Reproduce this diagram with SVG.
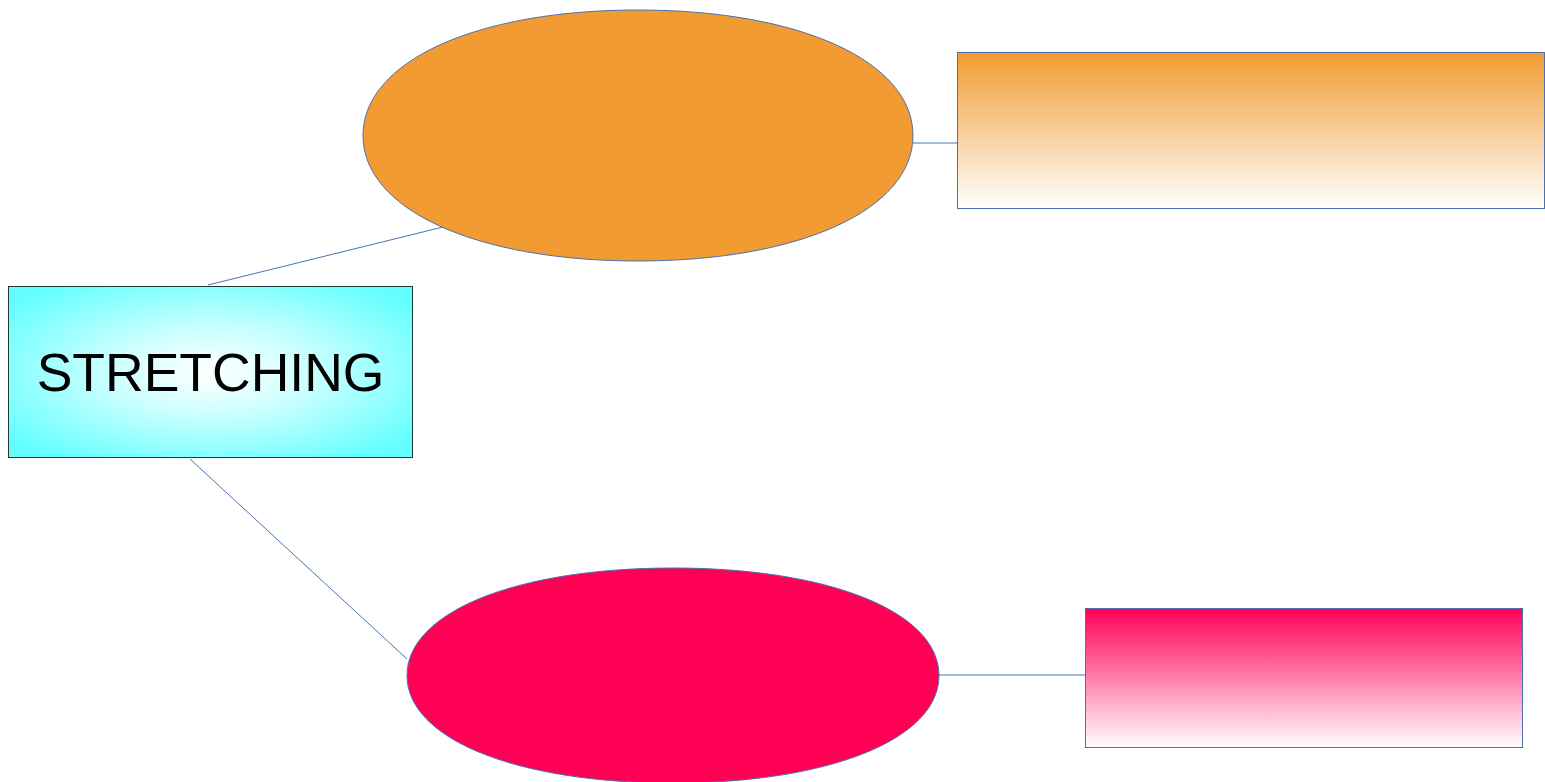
<svg xmlns="http://www.w3.org/2000/svg" width="1545" height="782" viewBox="0 0 1545 782">
<defs>
<radialGradient id="cyanG" cx="50%" cy="50%" r="62%">
<stop offset="0" stop-color="#ffffff"/>
<stop offset="0.4" stop-color="#ccffff"/>
<stop offset="1" stop-color="#66ffff"/>
</radialGradient>
<linearGradient id="orangeG" x1="0" y1="0" x2="0" y2="1">
<stop offset="0" stop-color="#f29b30"/>
<stop offset="1" stop-color="#ffffff"/>
</linearGradient>
<linearGradient id="pinkG" x1="0" y1="0" x2="0" y2="1">
<stop offset="0" stop-color="#ff0055"/>
<stop offset="1" stop-color="#ffffff"/>
</linearGradient>
<style>
.conn{stroke:#4a72b0;stroke-width:1;fill:none}
.edge{stroke:#4a72b0;stroke-width:1}
.lbl{font-family:"Liberation Sans",Arial,sans-serif;font-size:53.5px;fill:#000}
</style>
</defs>
<rect width="1545" height="782" fill="#ffffff"/>
<g id="connectors">
<line class="conn" x1="208" y1="285" x2="443" y2="227"/>
<line class="conn" x1="190" y1="459" x2="407" y2="659"/>
<line class="conn" x1="913" y1="143" x2="957" y2="143"/>
<line class="conn" x1="939" y1="675" x2="1085" y2="675"/>
</g>
<g id="stretching">
<rect x="8.5" y="286.5" width="404" height="171" fill="url(#cyanG)" stroke="#203838" stroke-width="1"/>
<text class="lbl" x="210.5" y="391" text-anchor="middle">STRETCHING</text>
</g>
<g id="ellipse-orange">
<path class="edge" fill="#f29b32" d="M363 135.5C363 61.45 475.75 10 638 10C800.25 10 913 61.45 913 135.5C913 209.55 800.25 261 638 261C475.75 261 363 209.55 363 135.5Z"/>
</g>
<g id="rect-orange">
<rect class="edge" x="957.5" y="52.5" width="587" height="156" fill="url(#orangeG)"/>
</g>
<g id="ellipse-pink">
<path class="edge" fill="#ff0055" d="M407 675.5C407 612.07 516.06 568 673 568C829.94 568 939 612.07 939 675.5C939 738.93 829.94 783 673 783C516.06 783 407 738.93 407 675.5Z"/>
</g>
<g id="rect-pink">
<rect class="edge" x="1085.5" y="608.5" width="437" height="139" fill="url(#pinkG)"/>
</g>
</svg>
